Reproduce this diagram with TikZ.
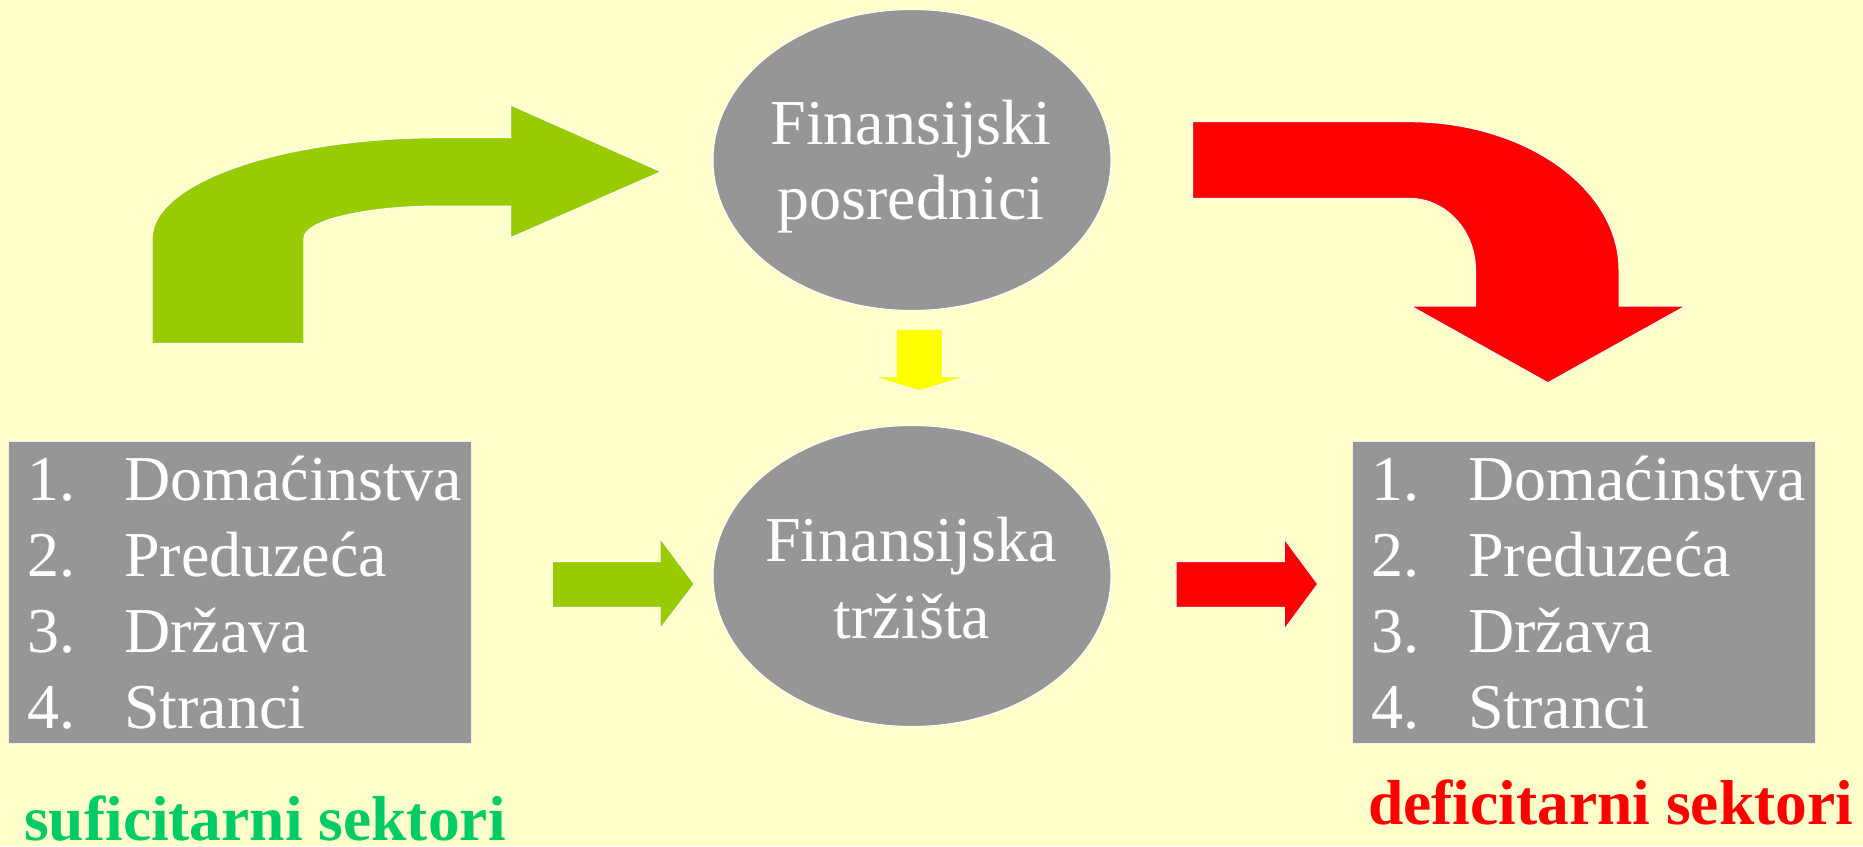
\documentclass[tikz,border=0pt]{standalone}
\usepackage{fontspec}
\setmainfont{Liberation Serif}[Ligatures=NoCommon]
\usetikzlibrary{shapes.geometric}
\definecolor{bgc}{HTML}{FFFFCC}
\definecolor{greyc}{HTML}{969696}
\definecolor{agreen}{HTML}{99CC00}
\definecolor{ared}{HTML}{FF0000}
\definecolor{ayellow}{HTML}{FFFF00}
\definecolor{tgreen}{HTML}{00CC66}
\tikzset{
  ell/.style={ellipse, fill=greyc, draw=white, line width=1pt, minimum width=398pt, minimum height=301pt, inner sep=0pt},
  sbox/.style={rectangle, fill=greyc, draw=white!85!greyc, line width=1.2pt, minimum width=463pt, minimum height=302pt, inner sep=0pt, anchor=north west},
  itm/.style={anchor=base west, inner sep=0pt, text=white, font=\fontsize{64}{75}\selectfont},
  etx/.style={anchor=base, inner sep=0pt, text=white, font=\fontsize{64}{75}\selectfont},
  lab/.style={anchor=base west, inner sep=0pt, font=\fontsize{63.5}{75}\selectfont\bfseries},
  blockarrow/.style={draw=white, line width=1pt, line join=miter}
}
\begin{document}
\begin{tikzpicture}[x=1pt,y=-1pt]
\useasboundingbox (0,0) rectangle (1863,846);
\fill[bgc] (0,0) rectangle (1863,846);

% ellipses
\node[ell] (fp) at (912,160) {};
\node[ell] (ft) at (912,576) {};
\node[etx] (fp1) at (911,144.3) {Finansijski};
\node[etx] (fp2) at (911,219.3) {posrednici};
\node[etx] (ft1) at (911,561) {Finansijska};
\node[etx] (ft2) at (912,638.3) {tržišta};

% sector boxes
\node[sbox] (lb) at (8,441) {};
\node[sbox] (rb) at (1352,441) {};
\foreach \bx/\nm in {8/l,1352/r}{
  \node[itm] (\nm n1) at (\bx+19,500) {1.};
  \node[itm] (\nm t1) at (\bx+116,500) {Domaćinstva};
  \node[itm] (\nm n2) at (\bx+19,576.7) {2.};
  \node[itm] (\nm t2) at (\bx+116,576.7) {Preduzeća};
  \node[itm] (\nm n3) at (\bx+19,652.7) {3.};
  \node[itm] (\nm t3) at (\bx+116,652.7) {Država};
  \node[itm] (\nm n4) at (\bx+19,728.3) {4.};
  \node[itm] (\nm t4) at (\bx+116,728.3) {Stranci};
}

% labels
\node[lab, text=tgreen] (suf) at (24,840) {suficitarni sektori};
\node[lab, text=ared] (def) at (1368,824) {deficitarni sektori};

% green bent arrow
\fill[agreen, blockarrow] (152.1,343.3) -- (152.1,238.3)
  .. controls (152.1,182.7) and (281.3,137.7) .. (440.7,137.7)
  -- (510.7,137.7) -- (510.7,105) -- (661.1,171.7) -- (510.7,237.7) -- (510.7,206) -- (440.7,206)
  .. controls (365.1,206) and (303.9,220.5) .. (303.9,238.3)
  -- (303.9,343.3) -- cycle;

% red bent arrow
\fill[ared, blockarrow] (1192.7,121.7) -- (1409,121.7)
  .. controls (1525,121.7) and (1619,188.1) .. (1619,270)
  -- (1619,306) -- (1685.5,306) -- (1547.8,382.7) -- (1410.7,306) -- (1475.5,306) -- (1475.5,270)
  .. controls (1475.5,230.4) and (1445.7,198.3) .. (1409,198.3)
  -- (1192.7,198.3) -- cycle;

% yellow arrow
\fill[ayellow, blockarrow] (896,329) -- (942.7,329) -- (942.7,376.7) -- (966,376.7) -- (919.3,391) -- (873.3,376.7) -- (896,376.7) -- cycle;

% small green arrow
\fill[agreen, blockarrow] (552.3,561.7) -- (660,561.7) -- (660,538.3) -- (694.3,584) -- (660,629) -- (660,607.3) -- (552.3,607.3) -- cycle;

% small red arrow
\fill[ared, blockarrow] (1176,561.7) -- (1284.3,561.7) -- (1284.3,539) -- (1317.7,584) -- (1284.3,629.3) -- (1284.3,607.3) -- (1176,607.3) -- cycle;
\end{tikzpicture}
\end{document}
